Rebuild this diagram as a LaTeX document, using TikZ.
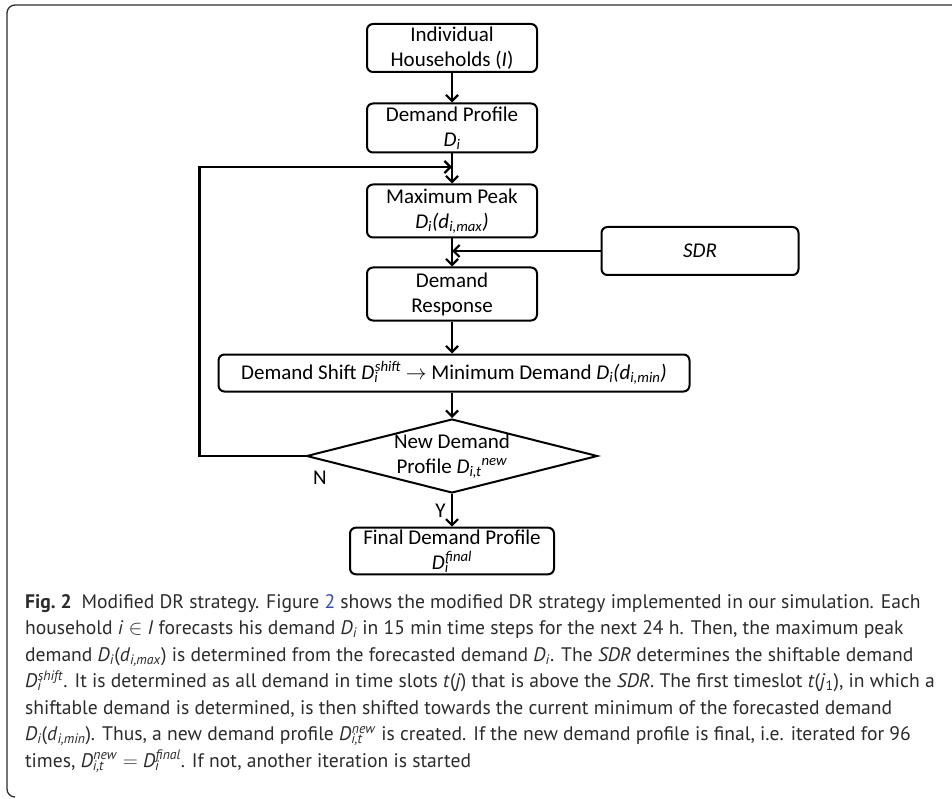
\documentclass[tikz,border=0pt]{standalone}
\usepackage{fontspec}
\setmainfont{Carlito}
\newfontfamily\captionfont{PT Sans}
\usetikzlibrary{positioning,shapes.geometric,arrows.meta}

\definecolor{capgray}{HTML}{2B2B2B}
\definecolor{linkblue}{HTML}{2F45D6}

% stacked sub- and superscript
\newcommand{\subsup}[2]{\textsubscript{\rlap{\textit{#1}}}\textsuperscript{\textit{#2}}}

\begin{document}
\begin{tikzpicture}
[x=1pt, y=-1pt,
    font=\fontsize{21}{25}\selectfont,
    ->, >={Straight Barb[length=6pt,width=12pt]},
    line width=2.2pt,
    box/.style={draw, rectangle, rounded corners=6pt, line width=2pt,
        minimum width=170pt, minimum height=48pt, inner sep=2pt,
        align=center},
    check/.style={draw, diamond, line width=2pt, inner sep=0pt,
        minimum width=291pt, minimum height=74pt},
    ]
    \useasboundingbox (0,0) rectangle (952,799);

    % frame of the figure
    \draw[-, line width=1.3pt, draw=capgray, rounded corners=8pt]
        (952,5) -- (7,5) -- (7,797) -- (15,797);

    % flow chart
    \node[box] (house) at (452,48) {Individual\\Households (\textit{I})};
    \node[box, minimum height=49pt] (profile) at (452,128)
        {Demand Profile\\\textit{D}\textsubscript{\textit{i}}};
    \node[box, minimum height=53pt] (peak) at (452,211)
        {Maximum Peak\\\textit{D\textsubscript{i}(d\textsubscript{i,max})}};
    \node[box, minimum width=197pt] (sdr) at (700,251) {\textit{SDR}};
    \node[box, minimum height=53pt] (response) at (452,294) {Demand\\Response};
    \node[box, minimum width=471pt, minimum height=37pt] (shift) at (454,373)
        {Demand Shift \textit{D}\subsup{i}{shift} $\rightarrow$ Minimum Demand
         \textit{D\textsubscript{i}(d\textsubscript{i,min})}};
    \node[check, label={[align=center]center:{New Demand\\Profile
        \textit{D}\textsubscript{\textit{i,t}}\textsuperscript{\textit{new}}}}]
        (newprof) at (452,456) {};
    \node[box, minimum width=204pt, minimum height=44pt] (final) at (452,551)
        {Final Demand Profile\\\textit{D}\subsup{i}{final}};
    \node (no) at (320,478) {N};

    \coordinate (join) at (452,167);

    \draw (house) -- (profile);
    \draw (profile) -- (peak);
    \draw (peak) -- (response);
    \draw (response) -- (response |- shift.north);
    \draw (shift.south -| newprof) -- (newprof);
    \draw (newprof) -- node[left=2pt] (yes) {Y} (final);
    \draw (sdr) -- (sdr -| peak);
    \draw (newprof.west) -- ++(-106,0) |- (join);

    % caption
    \node[anchor=north west, align=left, inner sep=0pt, text=capgray,
          font=\captionfont\fontsize{19.6}{26.5}\selectfont] (caption) at (24,593)
        {\textbf{Fig.~2}\enspace Modified DR strategy. Figure \textcolor{linkblue}{2} shows the modified DR strategy implemented in our simulation. Each\\
         household \textit{i} $\in$ \textit{I} forecasts his demand \textit{D}\textsubscript{\textit{i}} in 15 min time steps for the next 24 h. Then, the maximum peak\\
         demand \textit{D}\textsubscript{\textit{i}}(\textit{d}\textsubscript{\textit{i,max}}) is determined from the forecasted demand \textit{D}\textsubscript{\textit{i}}. The \textit{SDR} determines the shiftable demand\\
         \textit{D}\subsup{i}{shift}. It is determined as all demand in time slots \textit{t}(\textit{j}) that is above the \textit{SDR}. The first timeslot \textit{t}(\textit{j}\textsubscript{1}), in which a\\
         shiftable demand is determined, is then shifted towards the current minimum of the forecasted demand\\
         \textit{D}\textsubscript{\textit{i}}(\textit{d}\textsubscript{\textit{i,min}}). Thus, a new demand profile \textit{D}\subsup{i,t}{new} is created. If the new demand profile is final, i.e. iterated for 96\\
         times, \textit{D}\subsup{i,t}{new} $=$ \textit{D}\subsup{i}{final}. If not, another iteration is started};
\end{tikzpicture}
\end{document}
